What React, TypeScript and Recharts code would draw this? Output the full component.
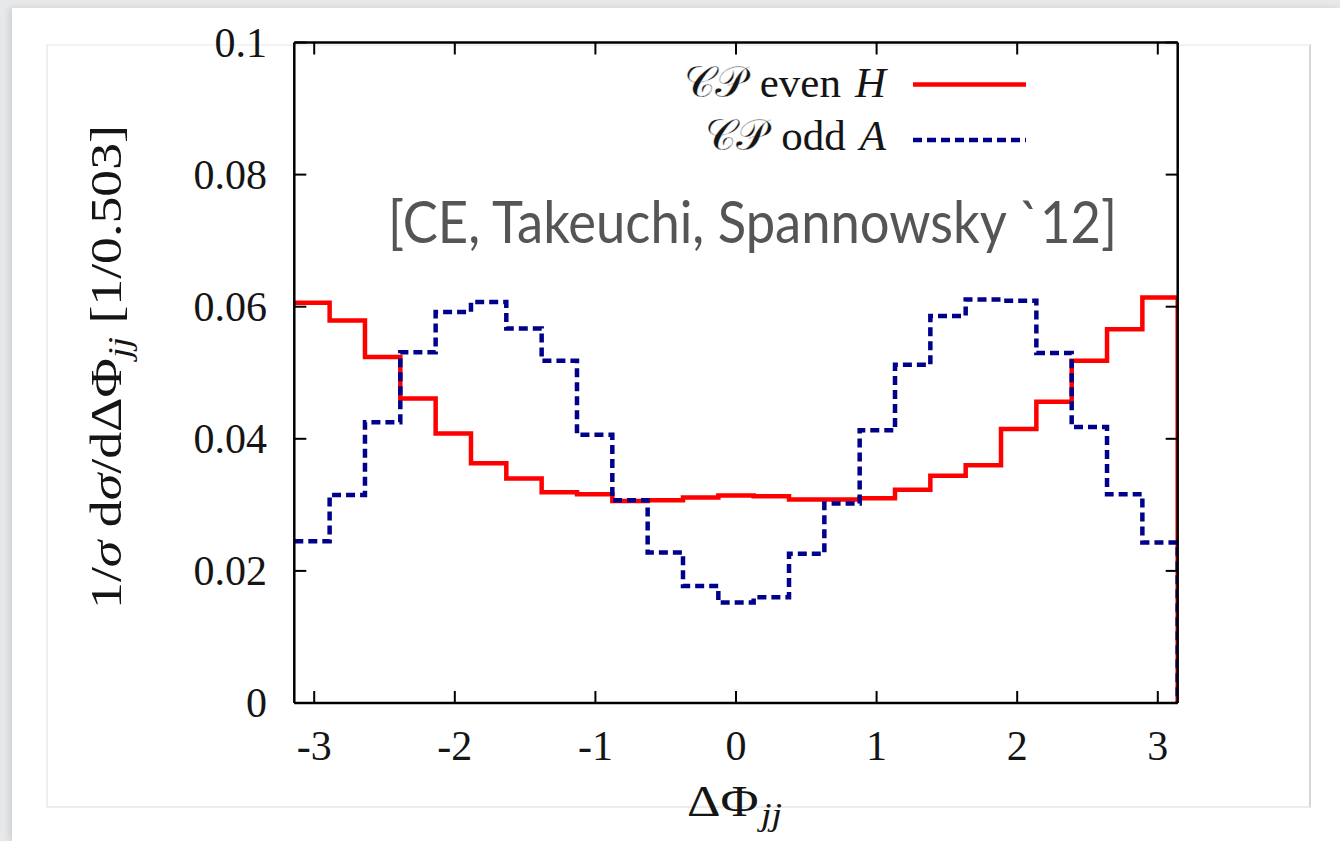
import React from 'react';
import { LineChart, Line, XAxis, YAxis, Legend } from 'recharts';

const PI = Math.PI;
const NBINS = 25;
// histogram bin left edges over [-pi, pi]
const binEdges: number[] = Array.from({ length: NBINS }, (_, k) => -PI + (2 * PI * k) / NBINS);

const evenH = [
  0.0606, 0.0579, 0.0524, 0.0461, 0.0408, 0.0363, 0.034, 0.0319, 0.0316, 0.0306, 0.0307, 0.0311, 0.0314,
  0.0313, 0.0308, 0.0308, 0.031, 0.0323, 0.0344, 0.036, 0.0415, 0.0456, 0.0518, 0.0566, 0.0614,
];
const oddA = [
  0.0245, 0.0315, 0.0425, 0.0531, 0.0592, 0.0607, 0.0567, 0.0518, 0.0406, 0.0307, 0.0228, 0.0177, 0.0152,
  0.016, 0.0226, 0.0302, 0.0413, 0.0512, 0.0586, 0.0611, 0.0609, 0.053, 0.0418, 0.0316, 0.0243,
];
const xTicks = [-3, -2, -1, 0, 1, 2, 3];
const yTicks = [0, 0.02, 0.04, 0.06, 0.08, 0.1];
const yTickLabels = ['0', '0.02', '0.04', '0.06', '0.08', '0.1'];
const legendTexts = { H: ['even', 'H'], A: ['odd', 'A'] } as Record<string, string[]>;
const citation = '[CE, Takeuchi, Spannowsky `12]';

const data = [
  ...binEdges.map((x, i) => ({ x, H: evenH[i], A: oddA[i] })),
  { x: PI, H: 0, A: 0 },
];

const W = 1340;
const H = 841;
const PLOT_L = 294.3;
const PLOT_R = 1177.7;
const PLOT_T = 42.5;
const PLOT_B = 703;
const TICK = 12;
const SERIF = '"Liberation Serif", "DejaVu Serif", serif';
const TXT = '#151515';
const FS = 42;

const BottomTick = (p: any) => (
  <g>
    <line x1={p.x} x2={p.x} y1={PLOT_B} y2={PLOT_B - TICK} stroke="#000" strokeWidth={2} />
    <text x={p.x} y={PLOT_B + 57} textAnchor="middle" fontFamily={SERIF} fontSize={FS} fill={TXT}>
      {String(p.payload.value)}
    </text>
  </g>
);
const TopTick = (p: any) => (
  <line x1={p.x} x2={p.x} y1={PLOT_T} y2={PLOT_T + TICK} stroke="#000" strokeWidth={2} />
);
const LeftTick = (p: any) => {
  const idx = yTicks.indexOf(p.payload.value);
  return (
    <g>
      <line x1={PLOT_L} x2={PLOT_L + TICK} y1={p.y} y2={p.y} stroke="#000" strokeWidth={2} />
      <text x={267} y={p.y + 14} textAnchor="end" fontFamily={SERIF} fontSize={FS} fill={TXT}>
        {idx >= 0 ? yTickLabels[idx] : String(p.payload.value)}
      </text>
    </g>
  );
};
const RightTick = (p: any) => (
  <line x1={PLOT_R} x2={PLOT_R - TICK} y1={p.y} y2={p.y} stroke="#000" strokeWidth={2} />
);

const YLabel = () => (
  <text
    transform={`translate(121, 367) rotate(-90)`}
    textAnchor="middle"
    fontFamily={SERIF}
    fontSize={44}
    fill={TXT}
    textLength={484}
    lengthAdjust="spacingAndGlyphs"
  >
    <tspan>1/</tspan>
    <tspan fontStyle="italic">σ</tspan>
    <tspan> d</tspan>
    <tspan fontStyle="italic">σ</tspan>
    <tspan>/dΔΦ</tspan>
    <tspan fontStyle="italic" fontSize={31} dy={9}>jj</tspan>
    <tspan dy={-9}>  [1/0.503]</tspan>
  </text>
);

const XLabel = () => (
  <text
    x={687}
    y={816}
    textAnchor="start"
    fontFamily={SERIF}
    fontSize={44}
    fill={TXT}
    textLength={95}
    lengthAdjust="spacingAndGlyphs"
  >
    <tspan>ΔΦ</tspan>
    <tspan fontStyle="italic" fontSize={32} dy={9} dx={2}>jj</tspan>
  </text>
);

const LegendContent = (props: any) => {
  const payload = props.payload || [];
  return (
    <svg width={W} height={H} style={{ position: 'absolute', left: 0, top: 0, overflow: 'visible' }}>
      {payload.map((e: any, i: number) => {
        const key = e.dataKey as string;
        const t = legendTexts[key] || [String(e.value), ''];
        const lineY = i === 0 ? 84.5 : 140;
        const baseY = i === 0 ? 97 : 150;
        return (
          <g key={key}>
            <text x={886} y={baseY} textAnchor="end" fontFamily={SERIF} fontSize={43} fill={TXT}>
              <tspan
                fontFamily='"DejaVu Serif", "DejaVu Sans", serif'
                fontStyle="normal"
                stroke="#ffffff"
                strokeWidth={0.35}
              >
                𝒞𝒫
              </tspan>
              <tspan dx={14}>{t[0]}</tspan>
              <tspan dx={14} fontStyle="italic">{t[1]}</tspan>
            </text>
            <line
              x1={913}
              x2={1026}
              y1={lineY}
              y2={lineY}
              stroke={e.color}
              strokeWidth={4.5}
              strokeDasharray={e.payload && e.payload.strokeDasharray}
            />
          </g>
        );
      })}
    </svg>
  );
};

export default function App() {
  return (
    <div style={{ position: 'fixed', left: 0, top: 0, width: W, height: H, background: '#e7e8ea', overflow: 'hidden' }}>
      <div
        style={{
          position: 'absolute',
          left: 12,
          top: 8,
          width: W - 12,
          height: H - 8,
          background: '#fff',
          boxShadow: '-3px 0 6px rgba(0,0,0,0.10)',
        }}
      />
      <div
        style={{
          position: 'absolute',
          left: 46,
          top: 44,
          width: 1261,
          height: 760,
          borderTop: '2px solid #f3f3f3',
          borderLeft: '2px solid #eeeeee',
          borderRight: '2px solid #d6d6d6',
          borderBottom: '2px solid #ececec',
        }}
      />
      <div style={{ position: 'absolute', left: 0, top: 0 }}>
        <LineChart
          width={W}
          height={H}
          data={data}
          margin={{ top: PLOT_T - 10, right: W - PLOT_R - 10, bottom: H - PLOT_B - 60, left: PLOT_L - 100 }}
        >
          <XAxis
            dataKey="x"
            type="number"
            domain={[-PI, PI]}
            ticks={xTicks}
            allowDataOverflow
            height={60}
            axisLine={{ stroke: '#000', strokeWidth: 2.5 }}
            tickLine={false}
            tick={<BottomTick />}
            interval={0}
            label={<XLabel />}
          />
          <XAxis
            xAxisId="top"
            orientation="top"
            dataKey="x"
            type="number"
            domain={[-PI, PI]}
            ticks={xTicks}
            allowDataOverflow
            height={10}
            axisLine={{ stroke: '#000', strokeWidth: 2.5 }}
            tickLine={false}
            tick={<TopTick />}
            interval={0}
          />
          <YAxis
            type="number"
            domain={[0, 0.1]}
            ticks={yTicks}
            allowDataOverflow
            width={100}
            axisLine={{ stroke: '#000', strokeWidth: 2.5 }}
            tickLine={false}
            tick={<LeftTick />}
            interval={0}
            label={<YLabel />}
          />
          <YAxis
            yAxisId="right"
            orientation="right"
            type="number"
            domain={[0, 0.1]}
            ticks={yTicks}
            allowDataOverflow
            width={10}
            axisLine={{ stroke: '#000', strokeWidth: 2.5 }}
            tickLine={false}
            tick={<RightTick />}
            interval={0}
          />
          <Legend
            layout="horizontal"
            verticalAlign="middle"
            align="center"
            content={<LegendContent />}
            wrapperStyle={{ position: 'absolute', left: 0, top: 0, width: W, height: H, pointerEvents: 'none' }}
          />
          <Line
            type="stepAfter"
            dataKey="H"
            name="CP even H"
            stroke="#ff0000"
            strokeWidth={4.5}
            dot={false}
            activeDot={false}
            isAnimationActive={false}
          />
          <Line
            type="stepAfter"
            dataKey="A"
            name="CP odd A"
            stroke="#00008b"
            strokeWidth={4.5}
            strokeDasharray="9 5"
            dot={false}
            activeDot={false}
            isAnimationActive={false}
          />
        </LineChart>
      </div>
      <svg width={W} height={H} style={{ position: 'absolute', left: 0, top: 0, pointerEvents: 'none' }}>
        <text
          x={388}
          y={243}
          fontFamily="Lato, 'Open Sans', sans-serif"
          fontSize={58}
          fill="#555555"
          textLength={729}
          lengthAdjust="spacingAndGlyphs"
        >
          {citation}
        </text>
      </svg>
    </div>
  );
}
